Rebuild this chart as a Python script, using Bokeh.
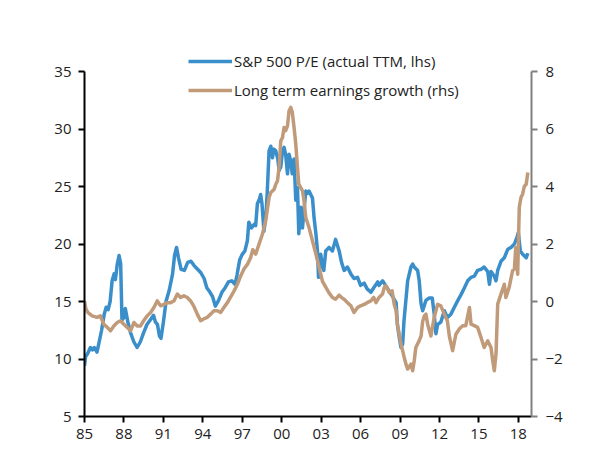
from bokeh.plotting import figure
from bokeh.models import Range1d, LinearAxis, FixedTicker, Legend, LegendItem
from bokeh.embed import file_html
from bokeh.resources import INLINE

pe_year = [1985.0, 1985.08, 1985.25, 1985.45, 1985.6, 1985.75, 1985.95, 1986.1, 1986.3, 1986.5,
           1986.65, 1986.8, 1986.95, 1987.1, 1987.25, 1987.35, 1987.5, 1987.63, 1987.75, 1987.85,
           1988.0, 1988.1, 1988.3, 1988.5, 1988.75, 1989.0, 1989.25, 1989.5, 1989.75, 1990.0,
           1990.25, 1990.4, 1990.55, 1990.7, 1990.82, 1991.0, 1991.2, 1991.45, 1991.7, 1991.85,
           1992.0, 1992.15, 1992.35, 1992.6, 1992.85, 1993.1, 1993.35, 1993.6, 1993.85, 1994.1,
           1994.3, 1994.55, 1994.75, 1994.95, 1995.2, 1995.45, 1995.7, 1995.95, 1996.2, 1996.45,
           1996.6, 1996.8, 1997.0, 1997.2, 1997.39, 1997.5, 1997.7, 1997.9, 1998.02, 1998.15,
           1998.3, 1998.4, 1998.5, 1998.65, 1998.8, 1998.9, 1999.04, 1999.17, 1999.3, 1999.4,
           1999.55, 1999.7, 1999.8, 1999.93, 2000.06, 2000.18, 2000.3, 2000.44, 2000.56, 2000.69,
           2000.8, 2000.94, 2001.07, 2001.2, 2001.3, 2001.45, 2001.58, 2001.83, 2001.96, 2002.08,
           2002.34, 2002.46, 2002.6, 2002.72, 2002.8, 2002.97, 2003.1, 2003.2, 2003.35, 2003.6,
           2003.86, 2004.1, 2004.37, 2004.55, 2004.75, 2005.0, 2005.26, 2005.5, 2005.77, 2006.0,
           2006.27, 2006.5, 2006.78, 2007.0, 2007.3, 2007.4, 2007.67, 2007.9, 2008.18, 2008.4,
           2008.7, 2008.8, 2008.94, 2009.07, 2009.2, 2009.3, 2009.58, 2009.83, 2009.96, 2010.08,
           2010.34, 2010.46, 2010.6, 2010.72, 2010.97, 2011.22, 2011.45, 2011.6, 2011.73, 2011.86,
           2012.1, 2012.37, 2012.6, 2012.87, 2013.13, 2013.4, 2013.64, 2013.9, 2014.15, 2014.4,
           2014.65, 2014.9, 2015.16, 2015.4, 2015.67, 2015.8, 2015.92, 2016.17, 2016.3, 2016.43,
           2016.68, 2016.93, 2017.2, 2017.44, 2017.7, 2017.9, 2018.0, 2018.15, 2018.33, 2018.6,
           2018.72]
pe_value = [9.4, 10.2, 10.5, 11.0, 10.8, 11.0, 10.6, 11.4, 12.5, 13.9,
            14.5, 14.3, 15.0, 16.8, 17.4, 16.9, 18.3, 19.0, 18.3, 13.4,
            13.6, 14.4, 13.2, 12.3, 11.5, 11.0, 11.5, 12.3, 13.0, 13.4,
            13.8, 13.2, 13.0, 12.0, 11.8, 13.2, 15.0, 16.0, 17.4, 19.0,
            19.7, 18.8, 17.8, 17.7, 18.4, 18.5, 18.1, 17.8, 17.5, 17.0,
            16.2, 15.8, 15.4, 14.6, 15.1, 15.8, 16.2, 16.7, 16.8, 16.5,
            17.3, 18.6, 19.1, 19.4, 20.3, 21.9, 21.4, 21.7, 21.6, 23.5,
            23.9, 24.3, 23.5, 21.1, 22.5, 24.5, 28.1, 28.5, 27.5, 28.25,
            28.1, 27.4, 26.4, 26.7, 28.1, 28.4, 27.8, 26.1, 27.8, 27.2,
            26.1, 27.4, 23.8, 24.9, 20.9, 23.2, 21.4, 24.6, 24.4, 24.6,
            24.0, 22.3, 20.9, 19.4, 17.1, 19.1, 18.0, 17.7, 19.4, 19.7,
            19.4, 20.4, 19.4, 18.4, 17.7, 18.0, 17.4, 17.0, 17.1, 16.4,
            16.6, 16.1, 15.8, 16.2, 16.7, 16.4, 16.8, 16.4, 15.9, 15.5,
            14.9, 13.0, 11.9, 11.0, 11.3, 13.3, 16.8, 18.0, 18.25, 18.0,
            17.7, 16.8, 14.8, 14.2, 15.1, 15.3, 15.3, 13.9, 12.2, 13.0,
            13.2, 14.2, 13.6, 13.9, 14.5, 15.1, 15.6, 16.2, 16.8, 17.1,
            17.2, 17.7, 17.8, 18.0, 17.6, 16.5, 17.6, 17.2, 16.8, 17.7,
            18.5, 18.8, 19.55, 19.7, 20.0, 20.6, 21.0, 19.4, 19.1, 18.8,
            19.2]

eg_year = [1985.0, 1985.1, 1985.25, 1985.58, 1985.96, 1986.2, 1986.47, 1986.73, 1986.98, 1987.23,
           1987.49, 1987.74, 1987.99, 1988.25, 1988.5, 1988.76, 1989.0, 1989.26, 1989.5, 1989.77,
           1990.03, 1990.28, 1990.53, 1990.79, 1991.04, 1991.3, 1991.55, 1991.8, 1992.06, 1992.31,
           1992.56, 1992.82, 1993.07, 1993.3, 1993.58, 1993.83, 1994.09, 1994.34, 1994.6, 1994.85,
           1995.1, 1995.36, 1995.6, 1995.87, 1996.1, 1996.37, 1996.63, 1996.88, 1997.13, 1997.4,
           1997.64, 1997.8, 1998.02, 1998.28, 1998.53, 1998.78, 1999.04, 1999.17, 1999.42, 1999.55,
           1999.68, 1999.8, 1999.93, 2000.06, 2000.18, 2000.3, 2000.44, 2000.56, 2000.69, 2000.8,
           2000.94, 2001.07, 2001.2, 2001.3, 2001.58, 2001.7, 2001.83, 2002.08, 2002.34, 2002.6,
           2002.85, 2003.1, 2003.35, 2003.6, 2003.86, 2004.1, 2004.37, 2004.6, 2004.75, 2005.0,
           2005.26, 2005.5, 2005.77, 2006.0, 2006.27, 2006.5, 2006.78, 2007.0, 2007.17, 2007.4,
           2007.67, 2007.8, 2007.93, 2008.18, 2008.4, 2008.56, 2008.7, 2008.8, 2008.94, 2009.07,
           2009.2, 2009.32, 2009.45, 2009.58, 2009.83, 2009.96, 2010.08, 2010.2, 2010.46, 2010.6,
           2010.72, 2010.85, 2010.97, 2011.1, 2011.35, 2011.6, 2011.86, 2012.1, 2012.37, 2012.6,
           2012.75, 2013.0, 2013.25, 2013.5, 2013.77, 2014.0, 2014.28, 2014.4, 2014.65, 2014.9,
           2015.16, 2015.4, 2015.67, 2015.92, 2016.05, 2016.17, 2016.3, 2016.43, 2016.68, 2016.93,
           2017.05, 2017.3, 2017.56, 2017.7, 2017.8, 2017.95, 2018.07, 2018.2, 2018.33, 2018.45,
           2018.6, 2018.72]
eg_value = [0.02, -0.25, -0.38, -0.5, -0.55, -0.5, -0.79, -0.9, -1.02, -0.85,
            -0.73, -0.67, -0.79, -0.9, -1.02, -0.73, -0.85, -0.85, -0.67, -0.5,
            -0.38, -0.21, 0.02, -0.15, -0.1, -0.04, -0.04, 0.02, 0.26, 0.14,
            0.2, 0.14, 0.02, -0.15, -0.44, -0.67, -0.6, -0.55, -0.44, -0.32,
            -0.32, -0.38, -0.21, -0.04, 0.14, 0.36, 0.6, 0.89, 1.13, 1.3,
            1.53, 1.8, 1.65, 2.0, 2.34, 2.8, 3.62, 3.79, 3.9, 4.08,
            4.2, 4.66, 5.59, 5.7, 6.05, 5.94, 6.11, 6.63, 6.75, 6.6,
            6.05, 5.47, 4.66, 4.08, 3.85, 3.5, 2.92, 2.57, 2.11, 1.65,
            1.18, 0.7, 0.5, 0.3, 0.14, 0.08, 0.22, 0.12, 0.08, -0.04,
            -0.15, -0.38, -0.21, -0.15, -0.1, -0.04, 0.02, 0.14, -0.04, 0.14,
            0.26, 0.49, 0.55, 0.31, 0.37, -0.1, -0.32, -0.79, -1.14, -1.48,
            -1.71, -1.95, -2.18, -2.35, -2.18, -2.41, -2.06, -1.6, -1.36, -1.2,
            -0.7, -0.5, -0.44, -0.79, -1.2, -0.55, -0.1, -0.15, -0.44, -0.67,
            -1.2, -1.71, -1.14, -0.96, -0.84, -0.84, -0.21, -0.79, -0.84, -0.9,
            -1.25, -1.6, -1.37, -1.6, -2.06, -2.41, -1.83, -0.09, 0.26, 0.6,
            0.14, 0.49, 1.07, 1.13, 1.88, 0.95, 3.27, 3.62, 3.74, 4.0,
            4.08, 4.49]

x_ticks = [1985, 1988, 1991, 1994, 1997, 2000, 2003, 2006, 2009, 2012, 2015, 2018]
x_tick_labels = ["85", "88", "91", "94", "97", "00", "03", "06", "09", "12", "15", "18"]
left_ticks = [5, 10, 15, 20, 25, 30, 35]
right_ticks = [-4, -2, 0, 2, 4, 6, 8]

BLUE = "#3A8FCA"
BROWN = "#C09A79"
FONT = "Open Sans"
TXT = "#222222"

# frame geometry: axes span 345 px; the frame extends 24 px above the top tick
AXIS_PX = 345.0
EXTRA_PX = 24.0
L0, L1 = left_ticks[0], left_ticks[-1]
R0, R1 = right_ticks[0], right_ticks[-1]
left_top = L1 + EXTRA_PX * (L1 - L0) / AXIS_PX
right_top = R1 + EXTRA_PX * (R1 - R0) / AXIS_PX

p = figure(width=593, height=456, output_backend="svg", toolbar_location=None,
           x_range=Range1d(1985, 2019), y_range=Range1d(L0, left_top),
           min_border_left=84, min_border_right=62, min_border_top=47, min_border_bottom=40)
p.outline_line_color = None
p.xgrid.visible = False
p.ygrid.visible = False
p.extra_y_ranges = {"rhs": Range1d(R0, right_top)}

# left axis
ya = p.yaxis[0]
ya.ticker = FixedTicker(ticks=left_ticks)
ya.bounds = (L0, L1)
ya.axis_line_color = "black"
ya.axis_line_width = 2
ya.major_tick_line_color = "black"
ya.major_tick_line_width = 2
ya.major_tick_out = 6
ya.major_tick_in = 0
ya.minor_tick_line_color = None
ya.major_label_standoff = 7
ya.major_label_text_font = FONT
ya.major_label_text_font_size = "15px"
ya.major_label_text_color = TXT

# bottom axis
xa = p.xaxis[0]
xa.ticker = FixedTicker(ticks=x_ticks)
xa.major_label_overrides = {t: l for t, l in zip(x_ticks, x_tick_labels)}
xa.axis_line_color = "black"
xa.axis_line_width = 2
xa.major_tick_line_color = "black"
xa.major_tick_line_width = 2
xa.major_tick_out = 6
xa.major_tick_in = 0
xa.minor_tick_line_color = None
xa.major_label_standoff = 6
xa.major_label_text_font = FONT
xa.major_label_text_font_size = "15px"
xa.major_label_text_color = TXT

# right axis
ra = LinearAxis(y_range_name="rhs", ticker=FixedTicker(ticks=right_ticks), bounds=(R0, R1))
ra.axis_line_color = "#808080"
ra.axis_line_width = 2
ra.major_tick_line_color = "#808080"
ra.major_tick_line_width = 2
ra.major_tick_out = 6
ra.major_tick_in = 0
ra.minor_tick_line_color = None
ra.major_label_standoff = 8
ra.major_label_text_font = FONT
ra.major_label_text_font_size = "15px"
ra.major_label_text_color = TXT
p.add_layout(ra, "right")

r1 = p.line(pe_year, pe_value, line_color=BLUE, line_width=3.5, line_join="round")
r2 = p.line(eg_year, eg_value, line_color=BROWN, line_width=3.5, line_join="round",
            y_range_name="rhs")

legend = Legend(items=[LegendItem(label="S&P 500 P/E (actual TTM, lhs)", renderers=[r1]),
                       LegendItem(label="Long term earnings growth (rhs)", renderers=[r2])],
                location=(104, 316), orientation="vertical")
legend.border_line_color = None
legend.background_fill_alpha = 0
legend.padding = 0
legend.margin = 0
legend.spacing = 9
legend.glyph_width = 44
legend.glyph_height = 20
legend.label_height = 20
legend.label_standoff = 2
legend.label_text_font = FONT
legend.label_text_font_size = "15px"
legend.label_text_color = TXT
p.add_layout(legend, "center")

open("out.html", "w").write(file_html(p, INLINE))
